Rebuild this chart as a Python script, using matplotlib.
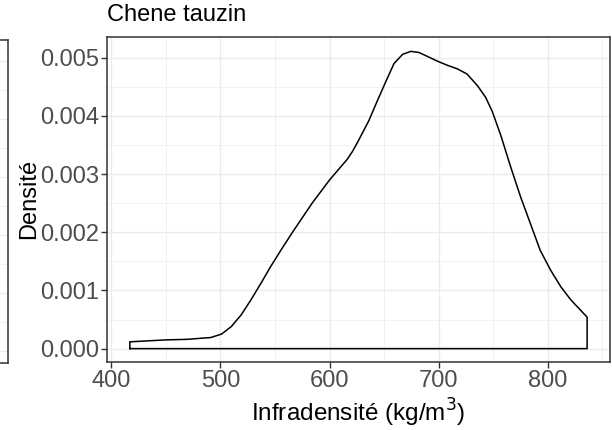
import numpy as np
import matplotlib
matplotlib.use("Agg")
import matplotlib.pyplot as plt

# density estimate (x in kg/m3)
infradens = [417, 430, 450, 470, 482, 491, 501, 510, 519, 528, 537, 546,
             556, 566, 575, 584, 592, 600, 605, 610, 616, 621, 626, 631, 636,
             644, 652, 659, 667, 674.5, 682, 690, 699, 708, 717, 726, 735.5,
             743, 749, 757, 766, 775, 784, 793, 802.5, 812, 821, 830, 836]
densite = [0.000117, 0.00013, 0.00015, 0.00016, 0.000178, 0.00019, 0.00025,
           0.00038, 0.00058, 0.00084, 0.00112, 0.00141, 0.00171,
           0.002, 0.00225, 0.0025, 0.0027, 0.0029, 0.00301, 0.00312, 0.00325,
           0.00339, 0.00356, 0.00374, 0.00392, 0.00427, 0.00461, 0.0049,
           0.00506, 0.00511, 0.00509, 0.00502, 0.00494, 0.00487, 0.00481,
           0.00472, 0.00452, 0.00432, 0.00408, 0.00366, 0.00312, 0.00261,
           0.00215, 0.00169, 0.00135, 0.00106, 0.00084, 0.00066, 0.00054]

x_ticks = [400, 500, 600, 700, 800]
y_ticks = [0.000, 0.001, 0.002, 0.003, 0.004, 0.005]
y_labels = ["0.000", "0.001", "0.002", "0.003", "0.004", "0.005"]

plt.rcParams['font.family'] = ['Liberation Sans', 'DejaVu Sans']

W, H = 612, 430
fig = plt.figure(figsize=(W / 100, H / 100), dpi=100)

grid_col = "#EBEBEB"
frame_col = "#333333"
tick_col = "#4D4D4D"

# piece of the neighbouring panel cut off at the left edge
axl = fig.add_axes([-100 / W, (H - 363) / H, 108 / W, (363 - 40) / H])
axl.set_xlim(0, 1)
axl.set_ylim(-0.00021, 0.00536)
for v in np.arange(0, 0.0055, 0.0005):
    axl.axhline(v, color=grid_col, lw=1.0 if round(v * 1e4) % 10 == 0 else 0.5)
axl.set_xticks([])
axl.set_yticks([])
for s in axl.spines.values():
    s.set_color(frame_col)
    s.set_linewidth(1.1)

ax = fig.add_axes([107 / W, (H - 362) / H, (610 - 107) / W, (362 - 36.5) / H])

xs = np.array(infradens)
ys = np.array(densite)
r = xs.max() - xs.min()
ax.set_xlim(xs.min() - 0.05 * r, xs.max() + 0.05 * r)
ax.set_ylim(-0.045 * ys.max(), ys.max() * 1.05)

# outline of the density, closed along the baseline like geom_density
px = np.concatenate([[xs[0]], xs, [xs[-1], xs[0]]])
py = np.concatenate([[0], ys, [0, 0]])
ax.plot(px, py, color="black", lw=1.1, zorder=3, solid_joinstyle="round")

ax.set_xticks(x_ticks)
ax.set_yticks(y_ticks)
ax.set_yticklabels(y_labels)
ax.set_xticks([450, 550, 650, 750, 850], minor=True)
ax.set_yticks(np.arange(0.0005, 0.0055, 0.001), minor=True)
ax.grid(True, which="major", color=grid_col, lw=1.0)
ax.grid(True, which="minor", color=grid_col, lw=0.5)
ax.set_axisbelow(True)

ax.tick_params(which="major", length=4, width=1, color=frame_col,
               labelsize=17, labelcolor=tick_col, pad=2)
ax.tick_params(which="minor", length=0)
for s in ax.spines.values():
    s.set_color(frame_col)
    s.set_linewidth(1.1)

ax.set_xlabel("Infradensité (kg/m$^3$)", fontsize=17.5, labelpad=3)
ax.set_ylabel("Densité", fontsize=17, labelpad=0)
ax.set_title("Chene tauzin", fontsize=17, loc="left", pad=11)

fig.savefig("out.png", dpi=100)
